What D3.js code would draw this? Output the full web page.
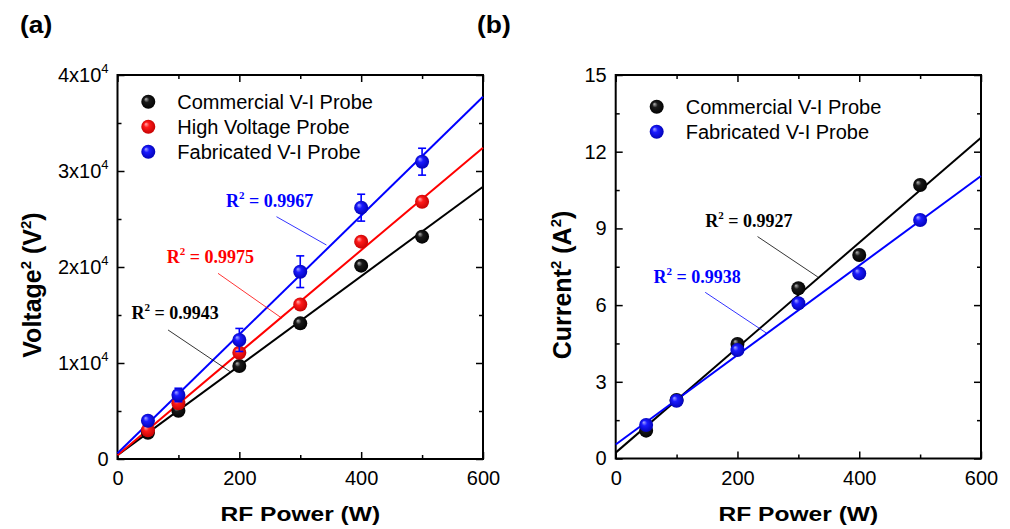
<!DOCTYPE html>
<html>
<head>
<meta charset="utf-8">
<script src="https://cdn.jsdelivr.net/npm/d3@7"></script>
<style>
  body { margin: 0; background: #fff; }
  svg { display: block; font-family: "Liberation Sans", Arial, sans-serif; }
</style>
</head>
<body>
<script>
// data
var power = [50, 100, 200, 300, 400, 500];
var fitPower = [0, 600];

// (a) voltage squared, V^2
var voltCommercial = [2740, 5030, 9690, 14130, 20140, 23160];
var voltHighVoltage = [3000, 5800, 11070, 16100, 22640, 26800];
var voltFabricated = [3990, 6670, 12400, 19510, 26180, 30970];
var voltFabricatedErr = [500, 700, 1200, 1650, 1400, 1400];
var voltCommercialFit = [400, 28360];
var voltHighVoltageFit = [400, 32430];
var voltFabricatedFit = [590, 37740];
var voltTicks = [0, 10000, 20000, 30000, 40000];
var voltTickLabels = ['0', '1x10', '2x10', '3x10', '4x10'];

// (b) current squared, A^2
var currCommercial = [1.09, 2.29, 4.48, 6.66, 7.96, 10.70];
var currFabricated = [1.31, 2.26, 4.24, 6.07, 7.24, 9.33];
var currFabricatedErr = [0.1, 0.1, 0.1, 0.12, 0.15, 0.15];
var currCommercialFit = [0.23, 12.55];
var currFabricatedFit = [0.55, 11.05];
var currTicks = [0, 3, 6, 9, 12, 15];

var powerTicks = [0, 200, 400, 600];
var seriesNames = ['Commercial V-I Probe', 'High Voltage Probe', 'Fabricated V-I Probe'];
var r2Volt = ['0.9943', '0.9975', '0.9967'];
var r2Curr = ['0.9927', '0.9938'];

var BLACK = '#000000', RED = '#ff0000', BLUE = '#0000ff';

var width = 1010, height = 529;
var svg = d3.select('body').append('svg')
    .attr('width', width)
    .attr('height', height);

svg.append('rect').attr('width', width).attr('height', height).attr('fill', '#fff');

// shaded balls
var defs = svg.append('defs');
function ball(id, hi, mid, lo) {
  var g = defs.append('radialGradient').attr('id', id)
      .attr('cx', '50%').attr('cy', '50%').attr('r', '55%')
      .attr('fx', '32%').attr('fy', '30%');
  g.append('stop').attr('offset', '0%').attr('stop-color', hi);
  g.append('stop').attr('offset', '35%').attr('stop-color', mid);
  g.append('stop').attr('offset', '100%').attr('stop-color', lo);
}
ball('ball-black', '#b8b8b8', '#1a1a1a', '#000');
ball('ball-red', '#ffb0b0', '#ff1a1a', '#c00000');
ball('ball-blue', '#a8a8ff', '#1a1aff', '#0000b0');

function drawPanel(cfg) {
  var x = d3.scaleLinear().domain([0, 600]).range(cfg.xRange);
  var y = d3.scaleLinear().domain(cfg.yDomain).range(cfg.yRange);
  var g = svg.append('g');

  var x0 = cfg.xRange[0], x1 = cfg.xRange[1], y0 = cfg.yRange[0], y1 = cfg.yRange[1];

  // minor ticks, inward on all four sides
  var xMinorVals = [100, 300, 500];
  var yMinorVals = cfg.yMinor;
  [[d3.axisBottom(x).tickValues(xMinorVals).tickSize(-4), 'translate(0,' + y0 + ')'],
   [d3.axisTop(x).tickValues(xMinorVals).tickSize(-4), 'translate(0,' + y1 + ')'],
   [d3.axisLeft(y).tickValues(yMinorVals).tickSize(-4), 'translate(' + x0 + ',0)'],
   [d3.axisRight(y).tickValues(yMinorVals).tickSize(-4), 'translate(' + x1 + ',0)']]
    .forEach(function(a) {
      g.append('g').attr('transform', a[1]).call(a[0].tickFormat(''))
        .call(function(s) { s.select('.domain').remove(); })
        .selectAll('line').attr('stroke-width', 1.5);
    });

  // major ticks
  g.append('g').attr('transform', 'translate(0,' + y0 + ')')
    .call(d3.axisBottom(x).tickValues(powerTicks).tickSize(-7).tickPadding(12).tickFormat(d3.format('d')));
  g.append('g').attr('transform', 'translate(0,' + y1 + ')')
    .call(d3.axisTop(x).tickValues(powerTicks).tickSize(-7).tickFormat(''));
  var yl = g.append('g').attr('transform', 'translate(' + x0 + ',0)')
    .call(d3.axisLeft(y).tickValues(cfg.yTicks).tickSize(-7).tickPadding(cfg.yPad).tickFormat(''));
  g.append('g').attr('transform', 'translate(' + x1 + ',0)')
    .call(d3.axisRight(y).tickValues(cfg.yTicks).tickSize(-7).tickFormat(''));
  g.selectAll('.domain').remove();
  g.selectAll('.tick line').attr('stroke-width', 1.5);
  g.selectAll('.tick text').attr('font-size', 20).attr('font-family', '"Liberation Sans", Arial, sans-serif').attr('fill', '#000');

  yl.selectAll('.tick text').each(function(d, i) {
    var t = d3.select(this);
    t.text(null);
    t.append('tspan').text(cfg.yLabels[i]);
    if (cfg.yExp && i > 0) {
      t.append('tspan').attr('dy', -9).attr('font-size', 13).text(cfg.yExp);
    }
  });

  // frame
  g.append('rect').attr('x', x0).attr('y', y1).attr('width', x1 - x0).attr('height', y0 - y1)
    .attr('fill', 'none').attr('stroke', '#000').attr('stroke-width', 2);

  // fit lines
  var line = d3.line().x(function(d) { return x(d[0]); }).y(function(d) { return y(d[1]); });
  cfg.series.forEach(function(s) {
    g.append('path').datum(d3.zip(fitPower, s.fit))
      .attr('d', line).attr('fill', 'none').attr('stroke', s.color).attr('stroke-width', 2);
  });

  // error bars and markers
  cfg.series.forEach(function(s) {
    if (s.err) {
      var eb = g.append('g').attr('stroke', s.color).attr('stroke-width', 1.6);
      power.forEach(function(p, i) {
        var cx = x(p), top = y(s.values[i] + s.err[i]), bot = y(s.values[i] - s.err[i]);
        eb.append('line').attr('x1', cx).attr('x2', cx).attr('y1', top).attr('y2', bot);
        eb.append('line').attr('x1', cx - 4).attr('x2', cx + 4).attr('y1', top).attr('y2', top);
        eb.append('line').attr('x1', cx - 4).attr('x2', cx + 4).attr('y1', bot).attr('y2', bot);
      });
    }
    g.append('g').selectAll('circle').data(d3.zip(power, s.values)).join('circle')
      .attr('cx', function(d) { return x(d[0]); })
      .attr('cy', function(d) { return y(d[1]); })
      .attr('r', 7)
      .attr('fill', 'url(#' + s.ball + ')');
  });

  // legend
  cfg.series.forEach(function(s, i) {
    var ly = cfg.legend[1] + i * 25;
    g.append('circle').attr('cx', cfg.legend[0]).attr('cy', ly).attr('r', 7).attr('fill', 'url(#' + s.ball + ')');
    g.append('text').attr('x', cfg.legend[0] + 29).attr('y', ly).attr('dy', '0.35em')
      .attr('font-size', 20).text(s.name);
  });

  // R^2 notes with leader lines
  cfg.notes.forEach(function(n) {
    g.append('line')
      .attr('x1', x(n.from[0])).attr('y1', y(n.from[1]))
      .attr('x2', x(n.to[0])).attr('y2', y(n.to[1]))
      .attr('stroke', n.color).attr('stroke-width', 0.8);
    var t = g.append('text').attr('x', x(n.at[0])).attr('y', y(n.at[1]))
      .attr('font-family', '"Liberation Serif", "Times New Roman", serif')
      .attr('font-weight', 'bold').attr('font-size', 18).attr('fill', n.color);
    t.append('tspan').text('R');
    t.append('tspan').attr('dy', -8).attr('font-size', 11).text('2');
    t.append('tspan').attr('dy', 8).text(' = ' + n.text);
  });

  // axis titles
  var cx = (x0 + x1) / 2;
  var xt = g.append('text').attr('transform', 'translate(' + cx + ',521) scale(1.17,1)')
    .attr('text-anchor', 'middle').attr('font-weight', 'bold').attr('font-size', 21);
  xt.append('tspan').text('RF Power (W)');

  var yt = g.append('text').attr('transform', 'translate(' + cfg.yTitleX + ',285) rotate(-90)')
    .attr('text-anchor', 'middle').attr('font-weight', 'bold').attr('font-size', 25);
  yt.append('tspan').text(cfg.yTitle);
  yt.append('tspan').attr('dy', -10).attr('font-size', 15).text('2');
  yt.append('tspan').attr('dy', 10).text(' (' + cfg.yUnit);
  yt.append('tspan').attr('dy', -10).attr('font-size', 15).text('2');
  yt.append('tspan').attr('dy', 10).text(')');

  // panel label
  g.append('text').attr('transform', 'translate(' + cfg.label[0] + ',' + cfg.label[1] + ') scale(1.1,1)')
    .attr('font-weight', 'bold').attr('font-size', 24).text(cfg.labelText);
}

drawPanel({
  xRange: [117.5, 483], yRange: [459, 75], yDomain: [0, 40000],
  yTicks: voltTicks, yLabels: voltTickLabels, yExp: '4', yPad: 9,
  yMinor: [5000, 15000, 25000, 35000],
  yTitle: 'Voltage', yUnit: 'V', yTitleX: 41,
  label: [20, 33], labelText: '(a)',
  legend: [148.3, 101.7],
  series: [
    { name: seriesNames[0], values: voltCommercial, fit: voltCommercialFit, color: BLACK, ball: 'ball-black' },
    { name: seriesNames[1], values: voltHighVoltage, fit: voltHighVoltageFit, color: RED, ball: 'ball-red' },
    { name: seriesNames[2], values: voltFabricated, fit: voltFabricatedFit, err: voltFabricatedErr, color: BLUE, ball: 'ball-blue' }
  ],
  notes: [
    { text: r2Volt[0], color: BLACK, at: [23, 14550], from: [83, 13440], to: [185, 9090] },
    { text: r2Volt[1], color: RED, at: [81, 20450], from: [165, 19340], to: [270, 14660] },
    { text: r2Volt[2], color: BLUE, at: [178, 26280], from: [261, 25240], to: [343, 22290] }
  ]
});

drawPanel({
  xRange: [615.7, 981], yRange: [458.5, 75], yDomain: [0, 15],
  yTicks: currTicks, yLabels: currTicks.map(String), yExp: null, yPad: 9,
  yMinor: [1.5, 4.5, 7.5, 10.5, 13.5],
  yTitle: 'Current', yUnit: 'A', yTitleX: 571,
  label: [477, 33], labelText: '(b)',
  legend: [656.7, 106.7],
  series: [
    { name: seriesNames[0], values: currCommercial, fit: currCommercialFit, color: BLACK, ball: 'ball-black' },
    { name: seriesNames[2], values: currFabricated, fit: currFabricatedFit, err: currFabricatedErr, color: BLUE, ball: 'ball-blue' }
  ],
  notes: [
    { text: r2Curr[0], color: BLACK, at: [147, 9.07], from: [233, 8.68], to: [332, 7.10] },
    { text: r2Curr[1], color: BLUE, at: [62, 6.85], from: [147, 6.50], to: [248, 4.90] }
  ]
});
</script>
</body>
</html>
